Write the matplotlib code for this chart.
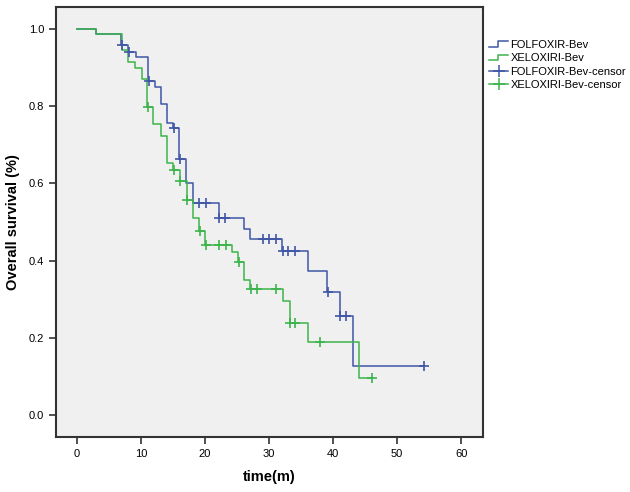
import numpy as np
import matplotlib
matplotlib.use("Agg")
import matplotlib.pyplot as plt
from matplotlib.lines import Line2D
from matplotlib.legend_handler import HandlerBase

plt.rcParams['font.family'] = ['Liberation Sans', 'DejaVu Sans']

# Kaplan-Meier steps (time in months, survival)
fol_time = [0, 3, 6.9, 8.0, 9.2, 11.1, 12.2, 13.1, 14.0, 15.0, 16.0, 17.0, 18.1,
            22.1, 26.1, 27.0, 32.0, 36.1, 39.1, 41.0, 43.1, 54.2]
fol_surv = [1.0, 0.987, 0.959, 0.941, 0.927, 0.866, 0.850, 0.806, 0.757, 0.743,
            0.662, 0.600, 0.548, 0.510, 0.483, 0.457, 0.426, 0.374, 0.319, 0.256,
            0.127, 0.127]
fol_censor = [7.0, 8.1, 11.2, 15.1, 16.1, 19.0, 20.1, 22.2, 23.1, 29.1, 30.0, 31.1,
              32.1, 33.0, 34.1, 39.2, 41.1, 42.0, 54.2]

xel_time = [0, 3, 7.0, 8.0, 9.1, 10.1, 11.0, 11.9, 13.1, 14.0, 15.0, 16.1, 17.1,
            18.1, 19.1, 20.0, 24.2, 25.2, 26.1, 27.0, 32.1, 33.2, 36.1, 44.1, 46.0]
xel_surv = [1.0, 0.987, 0.946, 0.915, 0.898, 0.870, 0.799, 0.754, 0.723, 0.652,
            0.635, 0.605, 0.557, 0.510, 0.476, 0.440, 0.423, 0.397, 0.350, 0.326,
            0.296, 0.238, 0.190, 0.097, 0.097]
xel_censor = [11.1, 15.1, 16.1, 17.1, 19.2, 20.1, 22.1, 23.3, 25.3, 27.1, 28.1, 31.1,
              33.2, 34.1, 38.0, 46.0]

blue = "#3f56a6"
green = "#3cb44b"


def surv_at(times, surv, t):
    # value of the step curve at time t
    i = np.searchsorted(times, t, side="right") - 1
    return np.array(surv)[i]


class StepHandler(HandlerBase):
    def create_artists(self, legend, orig_handle, xdescent, ydescent, width, height, fontsize, trans):
        x0 = -xdescent
        lo = -ydescent + height * 0.15
        hi = -ydescent + height * 0.85
        xs = [x0, x0 + width * 0.45, x0 + width * 0.45, x0 + width]
        ys = [lo, lo, hi, hi]
        line = Line2D(xs, ys, color=orig_handle.get_color(), lw=1.1, transform=trans)
        return [line]


fig = plt.figure(figsize=(6.3, 4.92), dpi=100)
ax = fig.add_axes([0.0889, 0.1118, 0.6778, 0.874])
ax.set_facecolor("#f0f0f0")

ax.step(fol_time, fol_surv, where="post", color=blue, lw=1.1)
ax.step(xel_time, xel_surv, where="post", color=green, lw=1.1)
ax.plot(fol_censor, [surv_at(fol_time, fol_surv, t) for t in fol_censor], "+",
        color=blue, ms=6.5, mew=1.2)
ax.plot(xel_censor, [surv_at(xel_time, xel_surv, t) for t in xel_censor], "+",
        color=green, ms=6.5, mew=1.2)

ax.set_xlim(-3.28, 63.4)
ax.set_ylim(-0.057, 1.057)
ax.set_xticks([0, 10, 20, 30, 40, 50, 60])
ax.set_yticks([0.0, 0.2, 0.4, 0.6, 0.8, 1.0])
ax.set_yticklabels(["0.0", "0.2", "0.4", "0.6", "0.8", "1.0"])
ax.tick_params(direction="out", length=5, width=1.2, labelsize=8, color="#333333")
for sp in ax.spines.values():
    sp.set_linewidth(1.5)
    sp.set_color("#333333")

ax.set_xlabel("time(m)", fontsize=10.5, fontweight="bold", labelpad=8)
ax.set_ylabel("Overall survival (%)", fontsize=10.5, fontweight="bold", labelpad=6)

h1 = Line2D([], [], color=blue)
h2 = Line2D([], [], color=green)
h3 = Line2D([], [], color=blue, marker="+", ms=8, mew=1.1, lw=1.1)
h4 = Line2D([], [], color=green, marker="+", ms=8, mew=1.1, lw=1.1)
fig.legend([h1, h2, h3, h4],
           ["FOLFOXIR-Bev", "XELOXIRI-Bev", "FOLFOXIR-Bev-censor", "XELOXIRI-Bev-censor"],
           handler_map={h1: StepHandler(), h2: StepHandler()},
           loc="upper left", bbox_to_anchor=(0.768, 0.93), frameon=False,
           fontsize=8, handlelength=1.7, handletextpad=0.2, labelspacing=0.3,
           borderpad=0, numpoints=1)

fig.savefig("out.png", dpi=100)
